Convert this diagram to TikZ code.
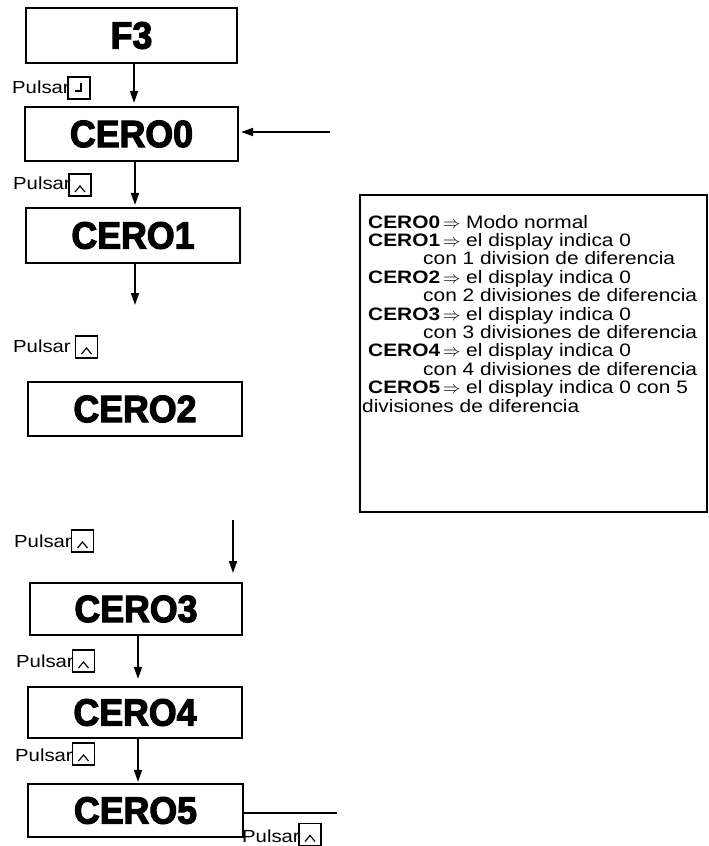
\documentclass[tikz,border=0pt]{standalone}
\usepackage{fontspec}
\setmainfont{Liberation Sans}[FakeStretch=1.16]
\newfontfamily\bigfont{Liberation Sans}[FakeBold=3,FakeStretch=0.94]
\usetikzlibrary{arrows.meta}
\newcommand{\chevkey}[1]{\draw[keysym] (#1.center) ++(-5,7) -- ++(5,-6) -- ++(5,6);}
\begin{document}
\begin{tikzpicture}[x=1pt,y=-1pt,
  stbox/.style={draw, line width=2.2pt, inner sep=0pt, font=\bigfont\bfseries\fontsize{38}{38}\selectfont},
  conn/.style={line width=1.8pt, -{Triangle[length=12pt,width=8pt]}},
  keybox/.style={draw, line width=1.3pt, minimum width=22pt, minimum height=22pt, inner sep=0pt},
  keysym/.style={line width=1.2pt},
  pulsar/.style={anchor=base west, inner sep=0pt, font=\fontsize{17.5}{17.5}\selectfont},
  legline/.style={anchor=base west, inner sep=0pt, text height=12pt, text depth=3pt, font=\fontsize{18}{18}\selectfont}]
\useasboundingbox (0,0) rectangle (709,846);
\fill[white] (0,0) rectangle (709,846);

% state boxes
\node[stbox, minimum width=211pt, minimum height=55pt] (f3) at (131.5,35.5) {F3};
\node[stbox, minimum width=213pt, minimum height=54pt] (cero0) at (131.5,134) {CERO0};
\node[stbox, minimum width=214pt, minimum height=55pt] (cero1) at (133,235.5) {CERO1};
\node[stbox, minimum width=214pt, minimum height=54pt] (cero2) at (135,409) {CERO2};
\node[stbox, minimum width=212pt, minimum height=52pt] (cero3) at (136,609) {CERO3};
\node[stbox, minimum width=214pt, minimum height=51pt] (cero4) at (135,712.5) {CERO4};
\node[stbox, minimum width=215pt, minimum height=53pt] (cero5) at (135.5,810.5) {CERO5};

% coordinates
\coordinate (c1) at (134,0);
\coordinate (c2) at (135,0);
\coordinate (d1) at (135,305);
\coordinate (d2s) at (233,520);
\coordinate (d2e) at (233,573);
\coordinate (c3) at (138,0);
\coordinate (rin) at (330,132);
\coordinate (lout) at (337,813);

% connectors
\draw[conn, shorten >=3pt] (f3.south -| c1) -- (cero0.north -| c1);
\draw[conn, shorten >=2pt] (cero0.south -| c2) -- (cero1.north -| c2);
\draw[conn] (cero1.south -| d1) -- (d1);
\draw[conn] (d2s) -- (d2e);
\draw[conn, shorten >=7pt] (cero3.south -| c3) -- (cero4.north -| c3);
\draw[conn, shorten >=1pt] (cero4.south -| c3) -- (cero5.north -| c3);
\draw[conn, shorten >=2pt] (rin) -- (cero0.east |- rin);
\draw[line width=1.5pt] (cero5.east |- lout) -- (lout);

% Pulsar labels and keys
\node[pulsar] (p1) at (12,93) {Pulsar};
\node[keybox] (k1) at (79,88) {};
\draw[keysym] (k1.center) ++(2,-5) -- ++(0,8) -- ++(-6,0);

\node[pulsar] (p2) at (13,189) {Pulsar};
\node[keybox] (k2) at (80,185) {};
\chevkey{k2}

\node[pulsar] (p3) at (13,352) {Pulsar};
\node[keybox] (k3) at (86.5,347) {};
\chevkey{k3}

\node[pulsar] (p4) at (14,547) {Pulsar};
\node[keybox] (k4) at (82.5,541) {};
\chevkey{k4}

\node[pulsar] (p5) at (16,667) {Pulsar};
\node[keybox] (k5) at (83.5,661) {};
\chevkey{k5}

\node[pulsar] (p6) at (15,761) {Pulsar};
\node[keybox] (k6) at (83.5,754) {};
\chevkey{k6}

\node[pulsar] (p7) at (242,842) {Pulsar};
\node[keybox] (k7) at (310,834.5) {};
\chevkey{k7}

% legend
\node[draw, line width=2pt, minimum width=347pt, minimum height=317pt, inner sep=0pt] (leg) at (533.5,353.5) {};
\node[legline] (l1) at (368,228) {\textbf{CERO0}\,$\Rightarrow$ Modo normal};
\node[legline] (l2) at (368,246.4) {\textbf{CERO1}\,$\Rightarrow$ el display indica 0};
\node[legline] (l3) at (423,264.8) {con 1 division de diferencia};
\node[legline] (l4) at (368,283.2) {\textbf{CERO2}\,$\Rightarrow$ el display indica 0};
\node[legline] (l5) at (423,301.6) {con 2 divisiones de diferencia};
\node[legline] (l6) at (368,320) {\textbf{CERO3}\,$\Rightarrow$ el display indica 0};
\node[legline] (l7) at (423,338.4) {con 3 divisiones de diferencia};
\node[legline] (l8) at (368,356.8) {\textbf{CERO4}\,$\Rightarrow$ el display indica 0};
\node[legline] (l9) at (423,375.2) {con 4 divisiones de diferencia};
\node[legline] (l10) at (368,393.6) {\textbf{CERO5}\,$\Rightarrow$ el display indica 0 con 5};
\node[legline] (l11) at (362,412) {divisiones de diferencia};
\end{tikzpicture}
\end{document}
